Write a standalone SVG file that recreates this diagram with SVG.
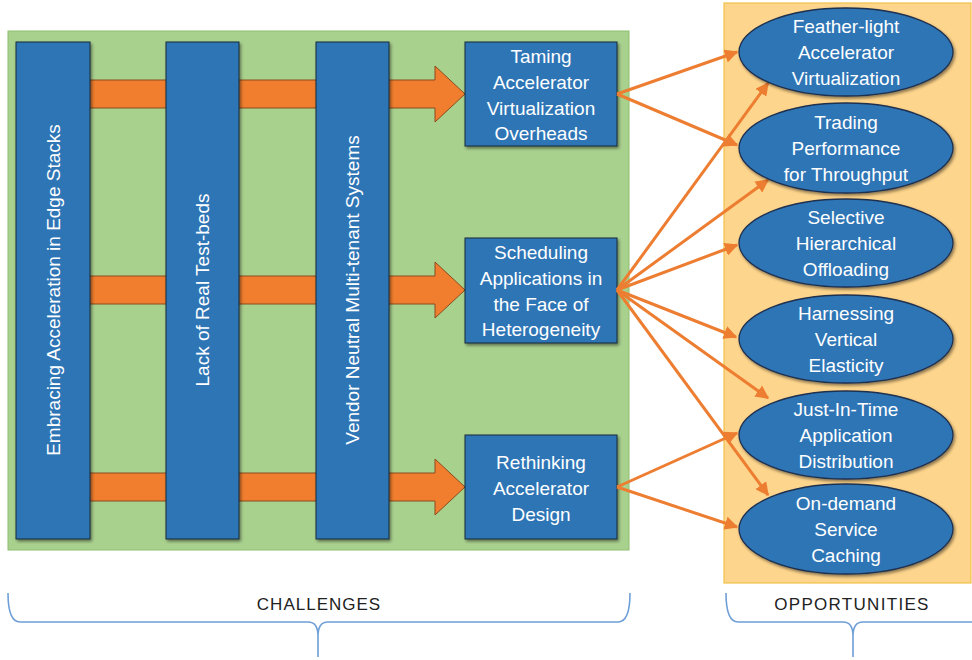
<svg xmlns="http://www.w3.org/2000/svg" width="972" height="660" viewBox="0 0 972 660">
<defs>
<filter id="sh" x="-10%" y="-10%" width="130%" height="130%">
<feDropShadow dx="1.5" dy="2" stdDeviation="1.5" flood-color="#000" flood-opacity="0.45"/>
</filter>
<marker id="ah" viewBox="0 0 10 10" refX="9" refY="5" markerWidth="4.5" markerHeight="4.5" orient="auto" markerUnits="strokeWidth">
<path d="M0,0 L10,5 L0,10 Z" fill="#ED7D31"/>
</marker>
<style>
.bar{fill:#2E75B6;stroke:#1b2a3a;stroke-width:1;filter:url(#sh)}
.box{fill:#2E75B6;stroke:#1b2a3a;stroke-width:1;filter:url(#sh)}
.ell{fill:#2E75B6;stroke:#1F3050;stroke-width:1.3;filter:url(#sh)}
.big{fill:#F07E2E;stroke:#8a4a1e;stroke-width:1}
.t{font-family:"Liberation Sans",Arial,sans-serif;font-size:19px;fill:#fff;text-anchor:middle}
.lbl{font-family:"Liberation Sans",Arial,sans-serif;font-size:17px;fill:#222;text-anchor:middle}
.con{stroke:#ED7D31;stroke-width:3;fill:none;marker-end:url(#ah)}
.brace{stroke:#6E9FD6;stroke-width:1.6;fill:none}
</style>
</defs>
<rect x="0" y="0" width="972" height="660" fill="#fff"/>
<g id="challenges-panel">
<rect x="8" y="31" width="621" height="519" fill="#A9D18E" stroke="#8DBE6E" stroke-width="1"/>
</g>
<g id="opportunities-panel">
<rect x="724" y="3" width="247" height="580" fill="#FED58C" stroke="#F2C24A" stroke-width="1.2"/>
</g>
<g id="big-arrows">
<polygon class="big" points="85,80 435,80 435,66 465,94 435,122 435,108 85,108"/>
<polygon class="big" points="85,276 435,276 435,262 465,290 435,318 435,304 85,304"/>
<polygon class="big" points="85,473 435,473 435,459 465,487 435,515 435,501 85,501"/>
</g>
<g id="bar-embracing">
<rect class="bar" x="16" y="42" width="74" height="497"/>
<text class="t" transform="translate(60,290) rotate(-90)">Embracing Acceleration in Edge Stacks</text>
</g>
<g id="bar-lack">
<rect class="bar" x="166" y="42" width="73" height="497"/>
<text class="t" transform="translate(209,290) rotate(-90)">Lack of Real Test-beds</text>
</g>
<g id="bar-vendor">
<rect class="bar" x="316" y="42" width="73" height="497"/>
<text class="t" transform="translate(359,290) rotate(-90)">Vendor Neutral Multi-tenant Systems</text>
</g>
<g id="box-taming">
<rect class="box" x="465" y="42" width="152" height="104"/>
<text class="t" x="541" y="63">Taming</text>
<text class="t" x="541" y="89">Accelerator</text>
<text class="t" x="541" y="115">Virtualization</text>
<text class="t" x="541" y="140">Overheads</text>
</g>
<g id="box-scheduling">
<rect class="box" x="465" y="238" width="152" height="105"/>
<text class="t" x="541" y="259">Scheduling</text>
<text class="t" x="541" y="285">Applications in</text>
<text class="t" x="541" y="311">the Face of</text>
<text class="t" x="541" y="336">Heterogeneity</text>
</g>
<g id="box-rethinking">
<rect class="box" x="465" y="435" width="152" height="104"/>
<text class="t" x="541" y="469">Rethinking</text>
<text class="t" x="541" y="495">Accelerator</text>
<text class="t" x="541" y="521">Design</text>
</g>
<g id="connectors">
<line class="con" x1="617" y1="94" x2="737" y2="52"/>
<line class="con" x1="617" y1="94" x2="737" y2="145"/>
<line class="con" x1="617" y1="290" x2="768" y2="83"/>
<line class="con" x1="617" y1="290" x2="768" y2="180"/>
<line class="con" x1="617" y1="290" x2="737" y2="245"/>
<line class="con" x1="617" y1="290" x2="736" y2="337"/>
<line class="con" x1="617" y1="290" x2="768" y2="398"/>
<line class="con" x1="617" y1="290" x2="768" y2="495"/>
<line class="con" x1="617" y1="487" x2="737" y2="433"/>
<line class="con" x1="617" y1="487" x2="737" y2="527"/>
</g>
<g id="ell-feather">
<ellipse class="ell" cx="846" cy="52" rx="107" ry="44"/>
<text class="t" x="846" y="33">Feather-light</text>
<text class="t" x="846" y="59">Accelerator</text>
<text class="t" x="846" y="85">Virtualization</text>
</g>
<g id="ell-trading">
<ellipse class="ell" cx="846" cy="148" rx="107" ry="45"/>
<text class="t" x="846" y="129">Trading</text>
<text class="t" x="846" y="155">Performance</text>
<text class="t" x="846" y="181">for Throughput</text>
</g>
<g id="ell-selective">
<ellipse class="ell" cx="846" cy="243" rx="107" ry="44"/>
<text class="t" x="846" y="224">Selective</text>
<text class="t" x="846" y="250">Hierarchical</text>
<text class="t" x="846" y="276">Offloading</text>
</g>
<g id="ell-harnessing">
<ellipse class="ell" cx="846" cy="339" rx="107" ry="44"/>
<text class="t" x="846" y="320">Harnessing</text>
<text class="t" x="846" y="346">Vertical</text>
<text class="t" x="846" y="372">Elasticity</text>
</g>
<g id="ell-jit">
<ellipse class="ell" cx="846" cy="435" rx="107" ry="44"/>
<text class="t" x="846" y="416">Just-In-Time</text>
<text class="t" x="846" y="442">Application</text>
<text class="t" x="846" y="468">Distribution</text>
</g>
<g id="ell-ondemand">
<ellipse class="ell" cx="846" cy="529" rx="107" ry="45"/>
<text class="t" x="846" y="510">On-demand</text>
<text class="t" x="846" y="536">Service</text>
<text class="t" x="846" y="562">Caching</text>
</g>
<g id="brace-challenges">
<path class="brace" d="M8,593 Q8,622 20,622 L308,622 Q318,622 318,636 L318,657 M318,636 Q318,622 328,622 L618,622 Q630,622 630,593"/>
<text class="lbl" x="319" y="610" letter-spacing="1">CHALLENGES</text>
</g>
<g id="brace-opportunities">
<path class="brace" d="M726,593 Q726,622 738,622 L843,622 Q853,622 853,636 L853,657 M853,636 Q853,622 863,622 L972,622"/>
<text class="lbl" x="852" y="610" letter-spacing="1.3">OPPORTUNITIES</text>
</g>
</svg>
